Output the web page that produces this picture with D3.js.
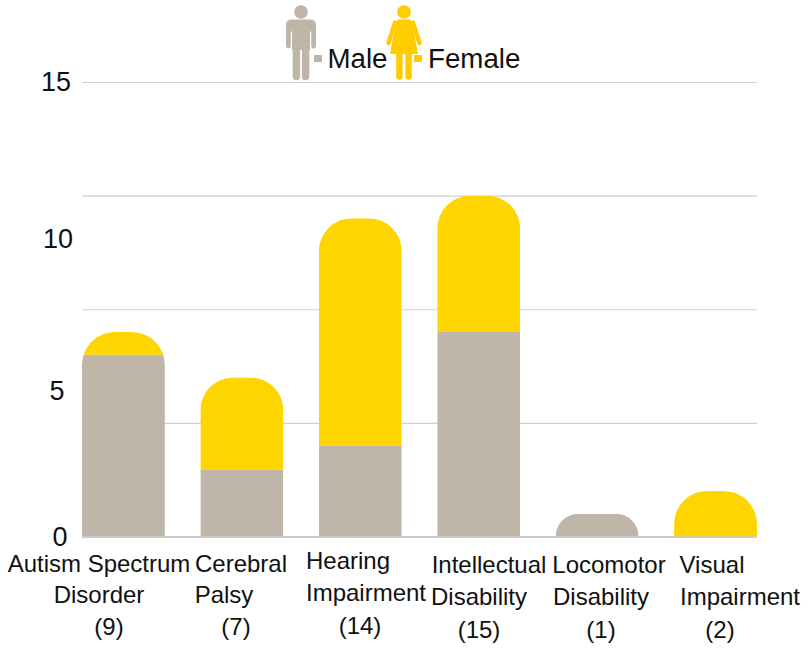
<!DOCTYPE html>
<html>
<head>
<meta charset="utf-8">
<script src="https://cdn.jsdelivr.net/npm/d3@7"></script>
<style>
  html, body { margin: 0; padding: 0; background: #fff; }
  text { font-family: "Liberation Sans", Arial, sans-serif; fill: #111; }
</style>
</head>
<body>
<div id="chart"></div>
<script>
const categories = ['Autism Spectrum Disorder', 'Cerebral Palsy', 'Hearing Impairment', 'Intellectual Disability', 'Locomotor Disability', 'Visual Impairment'];
const maleValues = [6, 2.2, 3, 6.75, 0.75, 0];
const femaleValues = [0.75, 3.05, 7.5, 4.5, 0, 1.5];
const gridTicks = [0, 3.75, 7.5, 11.25, 15];
const tickLabels = [0, 5, 10, 15];
const categoryLines = [
  ['Autism Spectrum', 'Disorder', '(9)'],
  ['Cerebral', 'Palsy', '(7)'],
  ['Hearing', 'Impairment', '(14)'],
  ['Intellectual', 'Disability', '(15)'],
  ['Locomotor', 'Disability', '(1)'],
  ['Visual', 'Impairment', '(2)']
];

const MALE = '#c0b5a9', FEMALE = '#ffd500', FEMALE_ICON = '#ffcc00';
const width = 811, height = 653;

const svg = d3.select('#chart').append('svg').attr('width', width).attr('height', height).style('display', 'block');

const x = d3.scaleBand().domain(categories).range([82, 757]).paddingInner(0.3).paddingOuter(0);
const y = d3.scaleLinear().domain([0, 15]).range([536.5, 82]);

// Grid
const grid = svg.append('g').attr('transform', 'translate(82,0)')
  .call(d3.axisLeft(y).tickValues(gridTicks).tickSize(-675).tickFormat(''));
grid.select('.domain').remove();
grid.selectAll('.tick line').attr('stroke', d => d === 0 ? '#9a9a9a' : '#d0d0d0').attr('stroke-width', 1.2);

// Y labels sit a bit off the grid in the original, so they get their own scale
const yLabel = d3.scaleLinear().domain(tickLabels).range([536, 390, 238, 81]);
const labelX = d3.scaleOrdinal().domain(tickLabels).range([60, 57, 58, 56]);
svg.append('g').selectAll('text').data(tickLabels).enter().append('text')
  .attr('x', d => labelX(d)).attr('y', d => yLabel(d))
  .attr('dy', '0.36em').attr('text-anchor', 'middle')
  .style('font-size', '27px').text(d => d);

// Stacked bars, clipped to a shape with a rounded top
const rows = categories.map((c, i) => ({ category: c, male: maleValues[i], female: femaleValues[i] }));
const series = d3.stack().keys(['male', 'female'])(rows);
const colors = { male: MALE, female: FEMALE };

const roundedTop = d => {
  const x0 = x(d.category), w = x.bandwidth();
  const top = y(d.male + d.female), base = y(0);
  const r = Math.min(33, base - top);
  const p = d3.path();
  p.moveTo(x0, base);
  p.lineTo(x0, top + r);
  p.arcTo(x0, top, x0 + r, top, r);
  p.lineTo(x0 + w - r, top);
  p.arcTo(x0 + w, top, x0 + w, top + r, r);
  p.lineTo(x0 + w, base);
  p.closePath();
  return p.toString();
};

svg.append('defs').selectAll('clipPath').data(rows).enter().append('clipPath')
  .attr('id', (d, i) => `bar-${i}`)
  .append('path').attr('d', roundedTop);

const bars = svg.append('g');
series.forEach(s => {
  bars.append('g').selectAll('rect').data(s).enter().append('rect')
    .attr('x', d => x(d.data.category))
    .attr('y', d => y(d[1]))
    .attr('width', x.bandwidth())
    .attr('height', d => y(d[0]) - y(d[1]))
    .attr('fill', colors[s.key])
    .attr('clip-path', (d, i) => `url(#bar-${i})`);
});

// Category labels, each line placed by hand like the original
const lineCenters = [[99, 99, 109], [241, 224, 236], [348, 366, 360], [489, 479, 479], [609, 601, 601], [712, 740, 720]];
const lineBase = [[572, 603, 635], [572, 603, 635], [569, 601, 634], [573, 605, 638], [573, 605, 638], [573, 605, 638]];
const labels = svg.append('g');
categoryLines.forEach((lines, i) => {
  labels.append('g').selectAll('text').data(lines).enter().append('text')
    .attr('x', (d, j) => lineCenters[i][j])
    .attr('y', (d, j) => lineBase[i][j])
    .attr('text-anchor', 'middle')
    .style('font-size', '24px')
    .text(d => d);
});

// Legend
const male = svg.append('g').attr('transform', 'translate(301,0)').attr('fill', MALE).attr('stroke', MALE);
male.append('circle').attr('cy', 12).attr('r', 6.8).attr('stroke', 'none');
male.append('rect').attr('x', -15).attr('y', 19.5).attr('width', 30).attr('height', 12).attr('rx', 5).attr('stroke', 'none');
male.append('rect').attr('x', -9).attr('y', 22).attr('width', 18).attr('height', 28).attr('stroke', 'none');
[-12.6, 12.6].forEach(ax => male.append('line').attr('x1', ax).attr('x2', ax).attr('y1', 26).attr('y2', 46)
  .attr('stroke-width', 4.8).attr('stroke-linecap', 'round'));
[-4.6, 4.6].forEach(lx => male.append('line').attr('x1', lx).attr('x2', lx).attr('y1', 46).attr('y2', 76.5)
  .attr('stroke-width', 7.4).attr('stroke-linecap', 'round'));

const female = svg.append('g').attr('transform', 'translate(404,0)').attr('fill', FEMALE_ICON).attr('stroke', FEMALE_ICON);
female.append('circle').attr('cy', 12).attr('r', 6.8).attr('stroke', 'none');
female.append('path').attr('stroke', 'none')
  .attr('d', d3.line()([[-6, 19.5], [6, 19.5], [8, 22], [14, 54], [-14, 54], [-8, 22]]) + 'Z');
[[-9, -15.5], [9, 15.5]].forEach(a => female.append('line')
  .attr('x1', a[0]).attr('x2', a[1]).attr('y1', 22.5).attr('y2', 43)
  .attr('stroke-width', 4.4).attr('stroke-linecap', 'round'));
[-4.6, 4.6].forEach(lx => female.append('line').attr('x1', lx).attr('x2', lx).attr('y1', 50).attr('y2', 76.5)
  .attr('stroke-width', 6.4).attr('stroke-linecap', 'round'));

svg.append('rect').attr('x', 314).attr('y', 55).attr('width', 8).attr('height', 7).attr('fill', MALE);
svg.append('rect').attr('x', 414).attr('y', 55).attr('width', 8).attr('height', 7).attr('fill', FEMALE_ICON);
svg.append('text').attr('x', 327.5).attr('y', 68).style('font-size', '27.7px').text('Male');
svg.append('text').attr('x', 428).attr('y', 68).style('font-size', '27.7px').text('Female');
</script>
</body>
</html>
